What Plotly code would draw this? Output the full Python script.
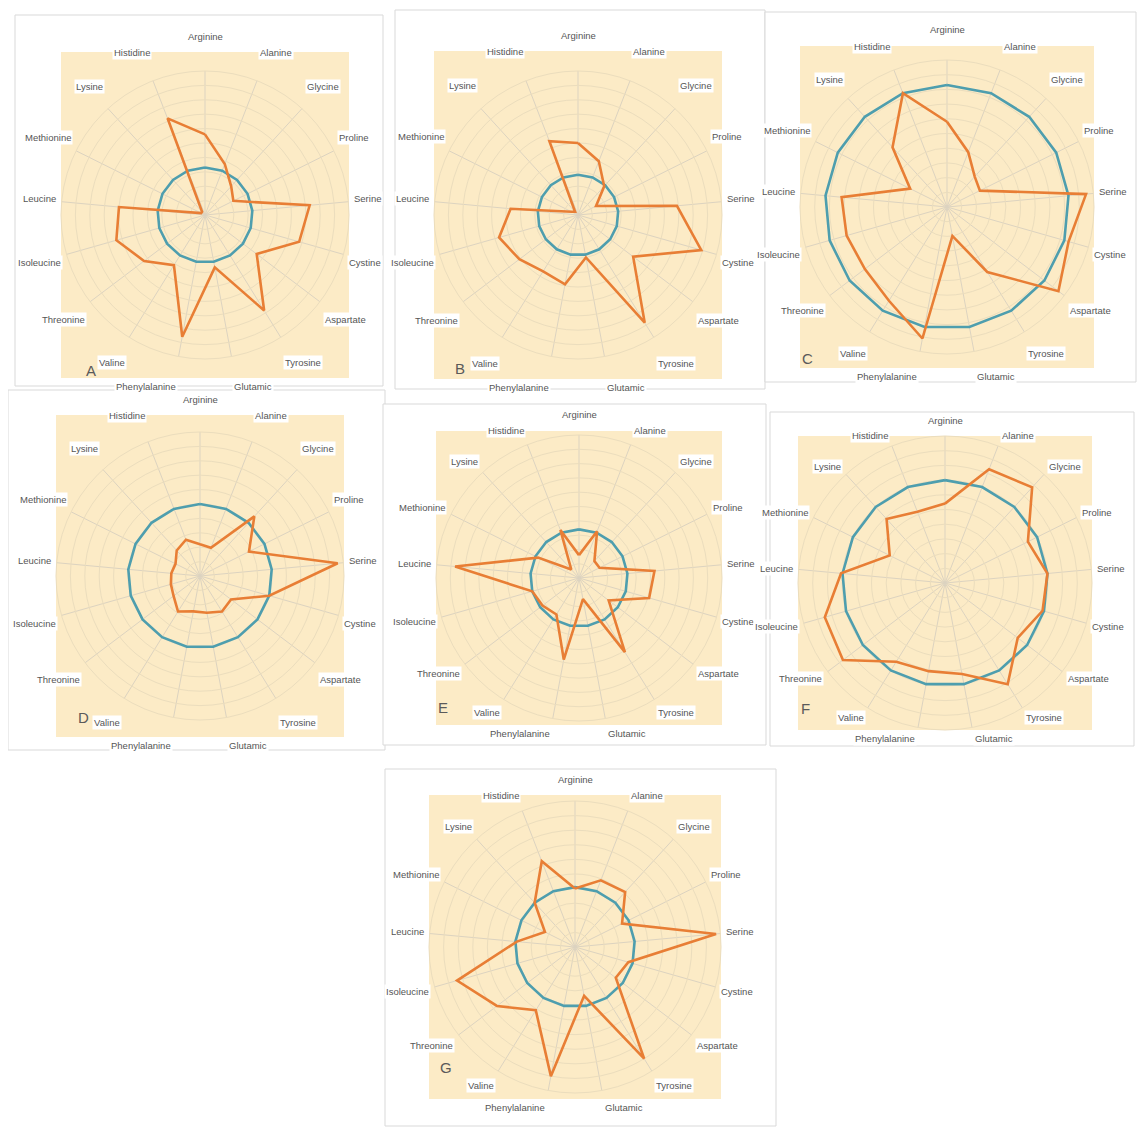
import math
import plotly.graph_objects as go

# The page body adds an 8 px margin, so the figure is sized and placed to compensate.
OFF = 8
W, H = 1147 - 2 * OFF, 1145 - 2 * OFF

categories = ["Arginine", "Alanine", "Glycine", "Proline", "Serine", "Cystine",
              "Aspartate", "Tyrosine", "Glutamic", "Phenylalanine", "Valine",
              "Threonine", "Isoleucine", "Leucine", "Methionine", "Lysine", "Histidine"]

panel_letters = ["A", "B", "C", "D", "E", "F", "G"]

# orange series (sample) per panel
sample_A = [5.6, 3.8, 2.7, 2.2, 7.3, 6.8, 4.5, 7.8, 3.7, 8.6, 4.1, 5.3, 6.4, 6.0, 0.3, 0.3, 7.2]
sample_B = [5.0, 4.0, 2.7, 1.4, 6.9, 8.9, 4.8, 8.8, 3.0, 4.9, 4.6, 5.1, 5.7, 4.7, 0.5, 0.3, 5.5]
sample_C = [5.8, 4.0, 2.8, 2.5, 9.5, 8.6, 9.5, 5.2, 2.0, 9.1, 7.5, 7.0, 7.1, 7.2, 2.8, 5.5, 8.3]
sample_D = [2.2, 2.1, 5.6, 3.8, 9.6, 5.0, 2.7, 2.9, 2.6, 2.5, 2.9, 2.3, 2.1, 2.0, 1.9, 2.4, 2.7]
sample_E = [1.6, 3.5, 1.6, 1.6, 5.3, 5.1, 2.6, 6.1, 1.5, 5.8, 3.0, 3.2, 3.4, 8.7, 3.2, 0.8, 3.6]
sample_F = [5.4, 8.3, 8.8, 6.3, 7.0, 6.9, 6.2, 8.1, 6.3, 6.1, 6.3, 8.7, 8.5, 7.1, 4.2, 5.9, 5.2]
sample_G = [4.0, 4.9, 5.1, 3.6, 9.7, 3.8, 3.5, 9.0, 3.4, 9.0, 5.1, 6.7, 8.4, 4.0, 2.3, 4.1, 6.3]

# blue series (reference) per panel
reference_A = [3.3, 3.3, 3.3, 3.3, 3.3, 3.3, 3.3, 3.3, 3.3, 3.3, 3.3, 3.3, 3.3, 3.3, 3.3, 3.3, 3.3]
reference_B = [2.8, 2.8, 2.8, 2.8, 2.8, 2.8, 2.8, 2.8, 2.8, 2.8, 2.8, 2.8, 2.8, 2.8, 2.8, 2.8, 2.8]
reference_C = [8.3, 8.3, 8.3, 8.3, 8.3, 8.3, 8.3, 8.3, 8.3, 8.3, 8.3, 8.3, 8.3, 8.3, 8.3, 8.3, 8.3]
reference_D = [5.0, 5.0, 5.0, 5.0, 5.0, 5.0, 5.0, 5.0, 5.0, 5.0, 5.0, 5.0, 5.0, 5.0, 5.0, 5.0, 5.0]
reference_E = [3.4, 3.4, 3.4, 3.4, 3.4, 3.4, 3.4, 3.4, 3.4, 3.4, 3.4, 3.4, 3.4, 3.4, 3.4, 3.4, 3.4]
reference_F = [7.0, 7.0, 7.0, 7.0, 7.0, 7.0, 7.0, 7.0, 7.0, 7.0, 7.0, 7.0, 7.0, 7.0, 7.0, 7.0, 7.0]
reference_G = [4.1, 4.1, 4.1, 4.1, 4.1, 4.1, 4.1, 4.1, 4.1, 4.1, 4.1, 4.1, 4.1, 4.1, 4.1, 4.1, 4.1]

samples = [sample_A, sample_B, sample_C, sample_D, sample_E, sample_F, sample_G]
references = [reference_A, reference_B, reference_C, reference_D, reference_E, reference_F, reference_G]

# layout (page pixels): center, polar radius, background half-height
centers = [(205, 215), (578, 215), (947, 207), (200, 576), (579, 578), (945, 583), (575, 947)]
radii = [144, 144, 147, 144, 143, 147, 146]
bg_half_h = [163, 164, 161, 161, 147, 147, 152]
frames = [(15, 15, 383, 386), (395, 10, 765, 389), (765, 12, 1136, 382), (8, 390, 385, 750),
          (383, 404, 766, 745), (770, 412, 1134, 746), (385, 769, 776, 1126)]
letter_pos = [(84, 360), (460, 358), (815, 348), (76, 717), (443, 707), (812, 708), (446, 1078)]

ORANGE = "#E87E35"
BLUE = "#4E9EAE"
BG = "#FCEBC6"
GRID = "#EBDDBD"
SPOKE = "#DCD3C0"
LABEL_FONT = dict(family="Liberation Sans", size=9.5, color="#555555")


def px(x):
    return (x - OFF) / W


def py(y):
    return 1 - (y - OFF) / H


fig = go.Figure()
shapes = []
annotations = []
n = len(categories)

for i, letter in enumerate(panel_letters):
    pid = "polar" if i == 0 else f"polar{i + 1}"
    cx, cy = centers[i]
    R = radii[i]
    hh = bg_half_h[i]

    x0, y0, x1, y1 = frames[i]
    shapes.append(dict(type="rect", xref="paper", yref="paper",
                       x0=px(x0), x1=px(x1), y0=py(y1), y1=py(y0),
                       line=dict(color="#D9D9D9", width=1), fillcolor="white", layer="below"))
    shapes.append(dict(type="rect", xref="paper", yref="paper",
                       x0=px(cx - R), x1=px(cx + R),
                       y0=py(min(cy + hh, y1 - 2)), y1=py(cy - hh),
                       line=dict(width=0), fillcolor=BG, layer="below"))

    ref = references[i]
    smp = samples[i]
    fig.add_trace(go.Scatterpolar(r=ref + ref[:1], theta=categories + categories[:1],
                                  mode="lines", line=dict(color=BLUE, width=2.6),
                                  subplot=pid, showlegend=False, hoverinfo="skip"))
    fig.add_trace(go.Scatterpolar(r=smp + smp[:1], theta=categories + categories[:1],
                                  mode="lines", line=dict(color=ORANGE, width=2.6),
                                  subplot=pid, showlegend=False))

    fig.layout[pid] = dict(
        domain=dict(x=[px(cx - R), px(cx + R)], y=[py(cy + R), py(cy - R)]),
        bgcolor="rgba(0,0,0,0)",
        radialaxis=dict(range=[0, 10], dtick=1, showticklabels=False, ticks="",
                        showline=False, gridcolor=GRID, gridwidth=1),
        angularaxis=dict(rotation=90, direction="clockwise", gridcolor=SPOKE, gridwidth=1,
                         linecolor=GRID, linewidth=1, showticklabels=False, ticks=""),
    )

    # category labels placed just outside each spoke, in white boxes
    ry = max(hh, R)
    for k, name in enumerate(categories):
        a = 2 * math.pi * k / n
        s, c = math.sin(a), math.cos(a)
        lx = cx + s * (R + 4)
        ly = cy - c * (ry + (16 if c > 0.99 else 11))
        if abs(s) < 0.1:
            xa = "center"
        elif s > 0:
            xa = "left"
        else:
            xa = "right"
        annotations.append(dict(text=name, x=px(lx), y=py(ly), xref="paper", yref="paper",
                                xanchor=xa, yanchor="middle", showarrow=False,
                                bgcolor="white", borderpad=1, font=LABEL_FONT))

    lx, ly = letter_pos[i]
    annotations.append(dict(text=letter, x=px(lx), y=py(ly), xref="paper", yref="paper",
                            showarrow=False, font=dict(family="Liberation Sans", size=15, color="#5a5a5a")))

fig.update_layout(width=W, height=H, margin=dict(l=0, r=0, t=0, b=0),
                  paper_bgcolor="white", plot_bgcolor="white",
                  shapes=shapes, annotations=annotations, showlegend=False)

fig.write_html("out.html")
